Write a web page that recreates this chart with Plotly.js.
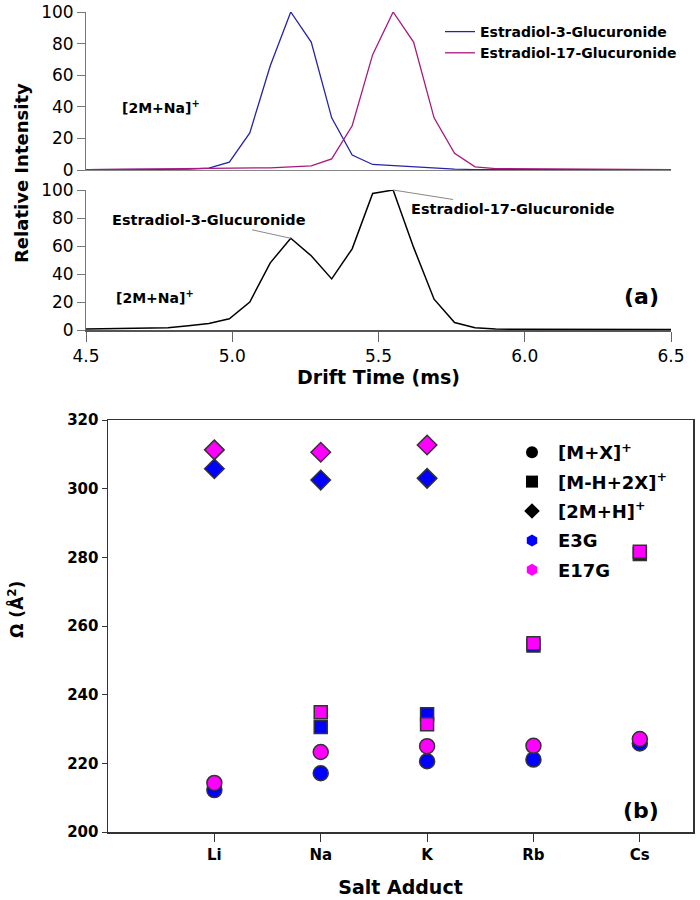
<!DOCTYPE html>
<html>
<head>
<meta charset="utf-8">
<script src="https://cdn.plot.ly/plotly-3.0.1.min.js"></script>
<style>html,body{margin:0;padding:0;background:#fff;}#chart{width:700px;height:900px;}</style>
</head>
<body>
<div id="chart"></div>
<script>
// ---- Panel (a): drift-time distributions ----
const driftTime = [4.50, 4.57, 4.64, 4.71, 4.78, 4.85, 4.92, 4.99, 5.06, 5.13, 5.20, 5.27, 5.34, 5.41, 5.48, 5.55, 5.62, 5.69, 5.76, 5.83, 5.90, 5.97, 6.04, 6.11, 6.18, 6.25, 6.32, 6.39, 6.46, 6.50];
const e3gIntensity = [0.2, 0.3, 0.4, 0.5, 0.6, 0.5, 1.2, 5, 23.5, 66, 100, 81, 33, 9.5, 3.5, 2.8, 1.8, 1.2, 0.6, 0.3, 0.3, 0.2, 0.2, 0.2, 0.2, 0.2, 0.2, 0.2, 0.2, 0.2];
const e17gIntensity = [0.2, 0.3, 0.6, 0.9, 1.0, 0.9, 0.8, 0.9, 1.1, 1.4, 2.0, 2.6, 7, 28, 73, 100, 81, 33, 10.5, 2, 0.9, 0.8, 0.7, 0.6, 0.6, 0.5, 0.4, 0.4, 0.3, 0.3];
const mixtureIntensity = [0.7, 0.8, 1.0, 1.2, 1.6, 3.0, 4.6, 8, 20, 48, 65.5, 53, 36.5, 58, 97.5, 100, 59, 22, 5.3, 1.6, 0.7, 0.5, 0.5, 0.4, 0.4, 0.3, 0.3, 0.3, 0.3, 0.3];
const driftTicks = [4.5, 5.0, 5.5, 6.0, 6.5];
const intensityTicks = [0, 20, 40, 60, 80, 100];

// ---- Panel (b): collision cross sections ----
const adducts = ['Li', 'Na', 'K', 'Rb', 'Cs'];
const mx_E3G = [212.2, 217.1, 220.6, 221.1, 225.8];
const mx_E17G = [214.3, 223.3, 225.0, 225.1, 227.1];
const mh2x_E3G = [null, 230.6, 234.3, 254.3, 281.0];
const mh2x_E17G = [null, 234.9, 231.4, 255.0, 281.6];
const m2h_E3G = [305.8, 302.5, 303.0, null, null];
const m2h_E17G = [311.3, 310.6, 312.7, null, null];
const ccsTicks = [200, 220, 240, 260, 280, 300, 320];

const FONT = 'DejaVu Sans, Verdana, sans-serif';
const BLUE_LINE = '#2424A8';
const PURPLE_LINE = '#A8187E';
const BLUE = '#0000FF';
const MAGENTA = '#FF00FF';
const EDGE = '#333333';

function pyTop(px) { return 1 - px / 900; }

const traces = [
  {x: driftTime, y: e3gIntensity, xaxis: 'x', yaxis: 'y', mode: 'lines', name: 'Estradiol-3-Glucuronide',
   line: {color: BLUE_LINE, width: 1.3}, legend: 'legend2'},
  {x: driftTime, y: e17gIntensity, xaxis: 'x', yaxis: 'y', mode: 'lines', name: 'Estradiol-17-Glucuronide',
   line: {color: PURPLE_LINE, width: 1.3}, legend: 'legend2'},
  {x: driftTime, y: mixtureIntensity, xaxis: 'x2', yaxis: 'y2', mode: 'lines', showlegend: false,
   line: {color: '#000000', width: 1.5}},
];

function mk(xs, ys, symbol, color, size) {
  return {x: xs, y: ys, xaxis: 'x3', yaxis: 'y3', mode: 'markers', showlegend: false,
    marker: {symbol: symbol, color: color, size: size, line: {color: EDGE, width: 1.5}}};
}
traces.push(mk(adducts, m2h_E3G, 'diamond', BLUE, 15));
traces.push(mk(adducts, mh2x_E3G, 'square', BLUE, 13));
traces.push(mk(adducts, mx_E3G, 'circle', BLUE, 15));
traces.push(mk(adducts, m2h_E17G, 'diamond', MAGENTA, 15));
traces.push(mk(adducts, mh2x_E17G, 'square', MAGENTA, 13));
traces.push(mk(adducts, mx_E17G, 'circle', MAGENTA, 15));

// legend-only entries for panel (b)
const legendEntries = [
  {name: '[M+X]<sup>+</sup>', symbol: 'circle', color: '#000000'},
  {name: '[M-H+2X]<sup>+</sup>', symbol: 'square', color: '#000000'},
  {name: '[2M+H]<sup>+</sup>', symbol: 'diamond', color: '#000000'},
  {name: 'E3G', symbol: 'hexagon', color: BLUE},
  {name: 'E17G', symbol: 'hexagon', color: MAGENTA},
];
legendEntries.forEach((e, i) => {
  traces.push({x: [null], y: [null], xaxis: 'x3', yaxis: 'y3', mode: 'markers', name: e.name,
    legendgroup: 'g' + i, legend: 'legend',
    marker: {symbol: e.symbol, color: e.color, size: 14, line: {width: 0}}});
});

const baseTick = {family: FONT, size: 17, color: '#000'};
const boldTick = {family: FONT, size: 15, color: '#000', weight: 'bold'};

const layout = {
  width: 700, height: 900,
  margin: {l: 0, r: 0, t: 0, b: 0},
  paper_bgcolor: '#fff', plot_bgcolor: 'rgba(0,0,0,0)',
  font: {family: FONT, color: '#000'},
  xaxis: {domain: [86/700, 671/700], anchor: 'y', range: [4.5, 6.5], showticklabels: false, ticks: '',
    showgrid: false, zeroline: false, showline: true, linecolor: '#888', linewidth: 1},
  yaxis: {domain: [pyTop(170), pyTop(12)], anchor: 'x', range: [0, 100], tickvals: intensityTicks,
    ticks: 'outside', ticklen: 8, tickcolor: '#777', showgrid: false, zeroline: false,
    showline: true, linecolor: '#777', linewidth: 1, tickfont: baseTick},
  xaxis2: {domain: [86/700, 671/700], anchor: 'y2', range: [4.5, 6.5], tickvals: driftTicks,
    tickformat: '.1f', ticks: 'outside', ticklen: 10, tickcolor: '#666',
    showgrid: false, zeroline: false, showline: true, linecolor: '#555', linewidth: 1.5,
    tickfont: baseTick,
    title: {text: 'Drift Time (ms)', font: {family: FONT, size: 19, weight: 'bold', color: '#000'}, standoff: 4}},
  yaxis2: {domain: [pyTop(330), pyTop(190)], anchor: 'x2', range: [0, 100], tickvals: intensityTicks,
    ticks: 'outside', ticklen: 8, tickcolor: '#777', showgrid: false, zeroline: false,
    showline: true, linecolor: '#777', linewidth: 1, tickfont: baseTick},
  xaxis3: {domain: [108/700, 693/700], anchor: 'y3', type: 'category', range: [-1, 4.5],
    ticks: 'outside', ticklen: 8, tickcolor: '#333', showgrid: false, zeroline: false,
    showline: true, mirror: true, linecolor: '#333', linewidth: 1.5, tickfont: boldTick,
    title: {text: 'Salt Adduct', font: {family: FONT, size: 19, weight: 'bold', color: '#000'}, standoff: 18}},
  yaxis3: {domain: [pyTop(832), pyTop(420)], anchor: 'x3', range: [200, 320], tickvals: ccsTicks,
    ticks: 'outside', ticklen: 5, tickcolor: '#333', showgrid: false, zeroline: false,
    showline: true, mirror: true, linecolor: '#333', linewidth: 1.5, tickfont: boldTick},
  showlegend: true,
  legend: {x: 506/700, y: pyTop(434), xanchor: 'left', yanchor: 'top', bgcolor: 'rgba(0,0,0,0)',
    font: {family: FONT, size: 18, weight: 'bold', color: '#000'}, tracegroupgap: 3, itemwidth: 42,
    itemsizing: 'constant'},
  legend2: {x: 440/700, y: pyTop(16), xanchor: 'left', yanchor: 'top', bgcolor: 'rgba(0,0,0,0)',
    font: {family: FONT, size: 14, weight: 'bold', color: '#000'}, tracegroupgap: 0},
  annotations: [
    {xref: 'paper', yref: 'paper', x: 22/700, y: pyTop(173), xanchor: 'center', yanchor: 'middle',
     text: 'Relative Intensity', textangle: -90,
     showarrow: false, font: {family: FONT, size: 18, weight: 'bold', color: '#000'}},
    {xref: 'paper', yref: 'paper', x: 16/700, y: pyTop(610), xanchor: 'center', yanchor: 'middle',
     text: 'Ω (Å<sup>2</sup>)', textangle: -90,
     showarrow: false, font: {family: FONT, size: 17, weight: 'bold', color: '#000'}},
    {xref: 'paper', yref: 'paper', x: 161/700, y: pyTop(107), xanchor: 'center', yanchor: 'middle',
     text: '[2M+Na]<sup>+</sup>',
     showarrow: false, font: {family: FONT, size: 14, weight: 'bold', color: '#000'}},
    {xref: 'paper', yref: 'paper', x: 155/700, y: pyTop(297), xanchor: 'center', yanchor: 'middle',
     text: '[2M+Na]<sup>+</sup>',
     showarrow: false, font: {family: FONT, size: 14, weight: 'bold', color: '#000'}},
    {xref: 'x2', yref: 'y2', x: driftTime[10], y: mixtureIntensity[10], text: 'Estradiol-3-Glucuronide',
     showarrow: true, arrowhead: 0, arrowwidth: 1, arrowcolor: '#888', ax: -82, ay: -18, standoff: 0,
     font: {family: FONT, size: 14.5, weight: 'bold', color: '#000'}},
    {xref: 'x2', yref: 'y2', x: driftTime[15], y: mixtureIntensity[15], text: 'Estradiol-17-Glucuronide',
     showarrow: true, arrowhead: 0, arrowwidth: 1, arrowcolor: '#888', ax: 120, ay: 19, standoff: 0,
     font: {family: FONT, size: 14.5, weight: 'bold', color: '#000'}},
    {xref: 'paper', yref: 'paper', x: 641/700, y: pyTop(296), xanchor: 'center', yanchor: 'middle',
     text: '(a)',
     showarrow: false, font: {family: FONT, size: 22, weight: 'bold', color: '#000'}},
    {xref: 'paper', yref: 'paper', x: 641/700, y: pyTop(810), xanchor: 'center', yanchor: 'middle',
     text: '(b)',
     showarrow: false, font: {family: FONT, size: 22, weight: 'bold', color: '#000'}},
  ],
};

Plotly.newPlot('chart', traces, layout, {staticPlot: true, displayModeBar: false});
</script>
</body>
</html>
